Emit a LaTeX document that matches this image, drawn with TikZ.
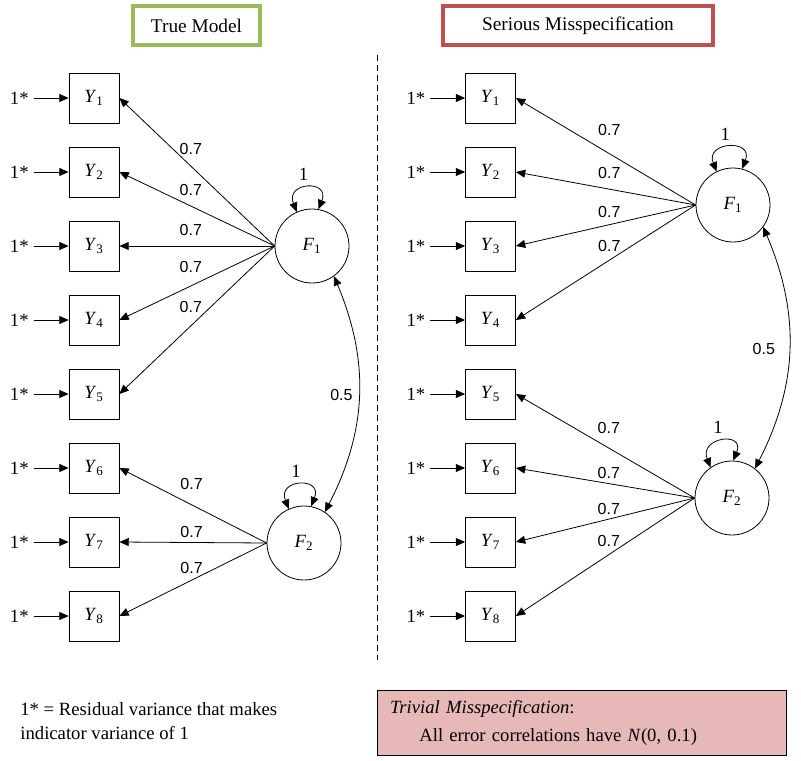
\documentclass[tikz,border=0pt]{standalone}
\usepackage{fontspec}
\setmainfont{Liberation Serif}
\setsansfont{Liberation Sans}
\usepackage{xcolor}
\usetikzlibrary{arrows.meta}
\definecolor{titlegreen}{RGB}{155,187,89}
\definecolor{titlered}{RGB}{192,80,77}
\definecolor{notepink}{RGB}{230,185,184}
\newcommand{\yvar}[1]{\textit{Y}\textsubscript{#1}}
\newcommand{\fvar}[1]{\textit{F}\textsubscript{#1}}

\begin{document}
\begin{tikzpicture}[x=0.75pt,y=0.75pt,>={Triangle[length=7pt,width=6pt]},node distance=55.5pt,line width=0.6pt]
  \tikzstyle{indicator} = [draw,minimum size=37.5pt,inner sep=0pt,font=\fontsize{14}{16}\selectfont]
  \tikzstyle{factor} = [draw,circle,minimum size=55.5pt,inner sep=0pt,font=\fontsize{14}{16}\selectfont]
  \tikzstyle{resid} = [font=\fontsize{14}{16}\selectfont,node distance=56pt]
  \tikzstyle{loading} = [font=\sffamily\fontsize{12}{14}\selectfont,above=3pt]
  \tikzstyle{varlabel} = [font=\fontsize{14}{16}\selectfont,midway,above=2pt,xshift=-3pt]
  \tikzstyle{corlabel} = [font=\sffamily\fontsize{12}{14}\selectfont,midway]
  \tikzstyle{titlebox} = [line width=3pt,minimum height=29.25pt,font=\fontsize{14.5}{17}\selectfont]
  \useasboundingbox (0,0) rectangle (801,-761);

  % titles
  \node[titlebox,draw=titlegreen,minimum width=95.25pt]	(trueT)	at (196.5,-25.5)	{True Model};
  \node[titlebox,draw=titlered,minimum width=202.5pt]	(serT)	at (578,-25.5)		{Serious Misspecification};
  \draw[dashed,dash pattern=on 4.5pt off 3pt] (377,-55) -- (377,-660);

  % true model
  \node[indicator]		(t1) at (94,-98)	{\yvar{1}};
  \node[indicator]		(t2) [below of=t1]	{\yvar{2}};
  \node[indicator]		(t3) [below of=t2]	{\yvar{3}};
  \node[indicator]		(t4) [below of=t3]	{\yvar{4}};
  \node[indicator]		(t5) [below of=t4]	{\yvar{5}};
  \node[indicator]		(t6) [below of=t5]	{\yvar{6}};
  \node[indicator]		(t7) [below of=t6]	{\yvar{7}};
  \node[indicator]		(t8) [below of=t7]	{\yvar{8}};
  \node[factor]			(tF1) at (312,-246)	{\fvar{1}};
  \node[factor]			(tF2) at (304,-543)	{\fvar{2}};

  \node[resid]	(te1) [left of=t1]	{1*};
  \node[resid]	(te2) [left of=t2]	{1*};
  \node[resid]	(te3) [left of=t3]	{1*};
  \node[resid]	(te4) [left of=t4]	{1*};
  \node[resid]	(te5) [left of=t5]	{1*};
  \node[resid]	(te6) [left of=t6]	{1*};
  \node[resid]	(te7) [left of=t7]	{1*};
  \node[resid]	(te8) [left of=t8]	{1*};

  \draw[->] (te1) -- (t1);
  \draw[->] (te2) -- (t2);
  \draw[->] (te3) -- (t3);
  \draw[->] (te4) -- (t4);
  \draw[->] (te5) -- (t5);
  \draw[->] (te6) -- (t6);
  \draw[->] (te7) -- (t7);
  \draw[->] (te8) -- (t8);

  \path[->] 	(tF1.west) edge node[loading,pos=0.54,above=2pt] {0.7} (t1.east);
  \path[->] 	(tF1.west) edge node[loading,pos=0.54,above=1pt] {0.7} (t2.east);
  \path[->] 	(tF1.west) edge node[loading,pos=0.54,above=1.5pt] {0.7} (t3.east);
  \path[->] 	(tF1.west) edge node[loading,pos=0.54,above=3pt] {0.7} (t4.east);
  \path[->] 	(tF1.west) edge node[loading,pos=0.54,above=3.5pt] {0.7} (t5.east);
  \path[->] 	(tF2.west) edge node[loading,pos=0.51,above=5pt] {0.7} (t6.east);
  \path[->] 	(tF2.west) edge node[loading,pos=0.51,above=-3pt] {0.7} (t7.east);
  \path[->] 	(tF2.west) edge node[loading,pos=0.51,above=-2pt] {0.7} (t8.east);

  \draw[<->] (tF1.114) .. controls +(-12,30) and +(12,30) .. (tF1.80) node[varlabel] {1};
  \draw[<->] (tF2.114) .. controls +(-12,30) and +(12,30) .. (tF2.79) node[varlabel] {1};
  \draw[<->] (tF1.-54) to[bend left=25] node[corlabel,left=1pt] {0.5} (tF2.56);

  % serious misspecification
  \node[indicator]		(s1) at (490.5,-98)	{\yvar{1}};
  \node[indicator]		(s2) [below of=s1]	{\yvar{2}};
  \node[indicator]		(s3) [below of=s2]	{\yvar{3}};
  \node[indicator]		(s4) [below of=s3]	{\yvar{4}};
  \node[indicator]		(s5) [below of=s4]	{\yvar{5}};
  \node[indicator]		(s6) [below of=s5]	{\yvar{6}};
  \node[indicator]		(s7) [below of=s6]	{\yvar{7}};
  \node[indicator]		(s8) [below of=s7]	{\yvar{8}};
  \node[factor]			(sF1) at (733,-205)	{\fvar{1}};
  \node[factor]			(sF2) at (732,-498)	{\fvar{2}};

  \node[resid]	(se1) [left of=s1]	{1*};
  \node[resid]	(se2) [left of=s2]	{1*};
  \node[resid]	(se3) [left of=s3]	{1*};
  \node[resid]	(se4) [left of=s4]	{1*};
  \node[resid]	(se5) [left of=s5]	{1*};
  \node[resid]	(se6) [left of=s6]	{1*};
  \node[resid]	(se7) [left of=s7]	{1*};
  \node[resid]	(se8) [left of=s8]	{1*};

  \draw[->] (se1) -- (s1);
  \draw[->] (se2) -- (s2);
  \draw[->] (se3) -- (s3);
  \draw[->] (se4) -- (s4);
  \draw[->] (se5) -- (s5);
  \draw[->] (se6) -- (s6);
  \draw[->] (se7) -- (s7);
  \draw[->] (se8) -- (s8);

  \path[->] 	(sF1.west) edge node[loading,pos=0.48,above=6.5pt] {0.7} (s1.east);
  \path[->] 	(sF1.west) edge node[loading,pos=0.48,above=1.5pt] {0.7} (s2.east);
  \path[->] 	(sF1.west) edge node[loading,pos=0.48,above=-1.5pt] {0.7} (s3.east);
  \path[->] 	(sF1.west) edge node[loading,pos=0.48,above=0pt] {0.7} (s4.east);
  \path[->] 	(sF2.west) edge node[loading,pos=0.48,above=4.5pt] {0.7} (s5.east);
  \path[->] 	(sF2.west) edge node[loading,pos=0.48,above=-3pt] {0.7} (s6.east);
  \path[->] 	(sF2.west) edge node[loading,pos=0.48,above=-3.5pt] {0.7} (s7.east);
  \path[->] 	(sF2.west) edge node[loading,pos=0.48,above=-0.5pt] {0.7} (s8.east);

  \draw[<->] (sF1.116) .. controls +(-12,30) and +(12,30) .. (sF1.76) node[varlabel] {1};
  \draw[<->] (sF2.125) .. controls +(-12,30) and +(12,30) .. (sF2.88) node[varlabel] {1};
  \draw[<->] (sF1.-36) to[bend left=25] node[corlabel,left=7pt] {0.5} (sF2.52);

  % notes
  \node[anchor=north west,inner sep=0pt,align=left,font=\fontsize{14}{18}\selectfont] (key) at (20,-702)
    {1* = Residual variance that makes\\indicator variance of 1};
  \node[draw,fill=notepink,minimum width=306.75pt,minimum height=48.75pt,inner xsep=9.75pt,
        text width=287.25pt,align=left,font=\fontsize{14}{21}\selectfont] (note) at (581.5,-722.5)
    {\textit{Trivial Misspecification}:\\\hspace*{22pt}All error correlations have \textit{N}(0, 0.1)};
\end{tikzpicture}
\end{document}
